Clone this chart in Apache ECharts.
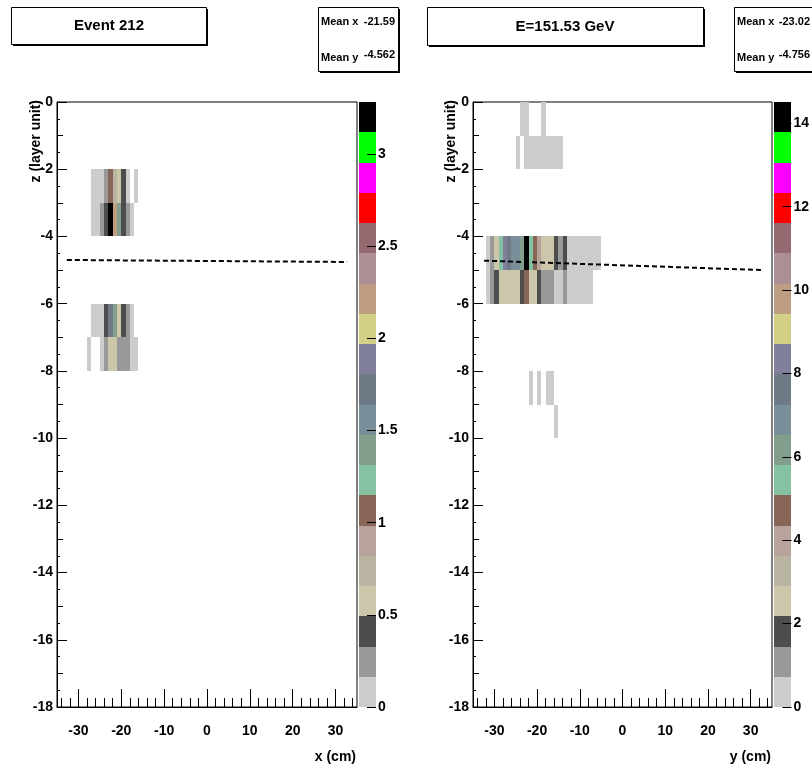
<!DOCTYPE html>
<html><head><meta charset="utf-8">
<script src="https://cdn.jsdelivr.net/npm/echarts@6/dist/echarts.min.js"></script>
<style>html,body{margin:0;padding:0;background:#fff}#c{width:812px;height:773px}</style>
</head><body><div id="c"></div>
<script>
// ---- data ----
const paletteColors = ['#cccccc','#999999','#4d4d4d','#ccc7ab','#bab5a3','#b8a39c','#876657','#85c2a3','#829e8c','#7a8f99','#6e7a85','#80809c','#d4cf87','#bd9e82','#ab8f94','#946970','#ff0000','#ff00ff','#00ff00','#000000'];
const leftMax = 3.283;
const rightMax = 14.51;
const leftLabels = [0,0.5,1,1.5,2,2.5,3];
const rightLabels = [0,2,4,6,8,10,12,14];
const xMajorTicks = [-30,-20,-10,0,10,20,30];
const xMinorTicks = [-34,-32,-28,-26,-24,-22,-18,-16,-14,-12,-8,-6,-4,-2,2,4,6,8,12,14,16,18,22,24,26,28,32,34];
const zMidTicks = [-1,-3,-5,-7,-9,-11,-13,-15,-17];
// cells: [x bin start (cm), layer top z, value]
const leftCells = [
 [-27,-2,0.08],[-26,-2,0.08],[-25,-2,0.08],[-24,-2,0.25],[-23,-2,1.07],[-22,-2,0.74],[-21,-2,0.57],[-20,-2,0.41],[-19,-2,0.08],[-17,-2,0.08],
 [-27,-3,0.08],[-26,-3,0.08],[-25,-3,0.25],[-24,-3,0.41],[-23,-3,3.28],[-22,-3,2.22],[-21,-3,1.40],[-20,-3,0.41],[-19,-3,0.25],[-18,-3,0.08],
 [-27,-6,0.08],[-26,-6,0.08],[-25,-6,0.08],[-24,-6,0.41],[-23,-6,1.72],[-22,-6,1.40],[-21,-6,0.57],[-20,-6,0.41],[-19,-6,0.25],[-18,-6,0.08],
 [-28,-7,0.08],[-25,-7,0.08],[-24,-7,0.25],[-23,-7,0.57],[-22,-7,0.57],[-21,-7,0.25],[-20,-7,0.25],[-19,-7,0.25],[-18,-7,0.08],[-17,-7,0.08]
];
const rightCells = [
 [-24,0,0.36],[-23,0,0.36],[-19,0,0.36],
 [-25,-1,0.36],[-23,-1,0.36],[-22,-1,0.36],[-21,-1,0.36],[-20,-1,0.36],[-19,-1,0.36],[-18,-1,0.36],[-17,-1,0.36],[-16,-1,0.36],[-15,-1,0.36],
 [-32,-4,0.36],[-31,-4,1.09],[-30,-4,2.54],[-29,-4,5.44],[-28,-4,8.34],[-27,-4,7.62],[-26,-4,6.89],[-25,-4,6.89],[-24,-4,6.17],[-23,-4,14.51],[-22,-4,5.44],[-21,-4,4.72],[-20,-4,3.99],[-19,-4,2.54],[-18,-4,2.54],[-17,-4,2.54],[-16,-4,1.81],[-15,-4,1.09],[-14,-4,1.81],
 [-13,-4,0.36],[-12,-4,0.36],[-11,-4,0.36],[-10,-4,0.36],[-9,-4,0.36],[-8,-4,0.36],[-7,-4,0.36],[-6,-4,0.36],
 [-32,-5,0.36],[-31,-5,1.09],[-30,-5,1.81],[-29,-5,2.54],[-28,-5,2.54],[-27,-5,2.54],[-26,-5,2.54],[-25,-5,2.54],[-24,-5,1.81],[-23,-5,4.72],[-22,-5,2.54],[-21,-5,2.54],[-20,-5,1.81],[-19,-5,1.09],[-18,-5,1.09],[-17,-5,1.09],[-16,-5,0.36],[-15,-5,0.36],[-14,-5,1.09],
 [-13,-5,0.36],[-12,-5,0.36],[-11,-5,0.36],[-10,-5,0.36],[-9,-5,0.36],[-8,-5,0.36],
 [-22,-8,0.36],[-20,-8,0.36],[-18,-8,0.36],[-17,-8,0.36],
 [-16,-9,0.36]
];
const leftFitX = [-32.7, 32.7];
const leftFitZ = [-4.70, -4.76];
const rightFitX = [-32.4, 32.7];
const rightFitZ = [-4.72, -5.00];

// ---- helpers ----
const FONT = '"Liberation Sans", Arial, Helvetica, sans-serif';
function colorFor(v, max) {
  let i = Math.floor(v / (max / paletteColors.length));
  if (i < 0) i = 0; if (i >= paletteColors.length) i = paletteColors.length - 1;
  return paletteColors[i];
}
function rectFrom(p0, p1) {
  const x0 = Math.round(Math.min(p0[0], p1[0])), x1 = Math.round(Math.max(p0[0], p1[0]));
  const y0 = Math.round(Math.min(p0[1], p1[1])), y1 = Math.round(Math.max(p0[1], p1[1]));
  return { x: x0, y: y0, width: x1 - x0, height: y1 - y0 };
}
function cellRenderer(max) {
  return function (params, api) {
    const x = api.value(0), z = api.value(1), v = api.value(2);
    const p0 = api.coord([x, z]);
    const p1 = api.coord([x + 1, z - 1]);
    return { type: 'rect', shape: rectFrom(p0, p1), style: { fill: colorFor(v, max) } };
  };
}
function levelData(max) {
  const n = paletteColors.length, out = [];
  for (let i = 0; i < n; i++) out.push([i * max / n, (i + 1) * max / n, i]);
  return out;
}
function barRenderer(params, api) {
  const lo = api.value(0), hi = api.value(1), i = api.value(2);
  const p0 = api.coord([0, hi]);
  const p1 = api.coord([1, lo]);
  return { type: 'rect', shape: rectFrom(p0, p1), style: { fill: paletteColors[i] } };
}
const lab = { color: '#000', fontFamily: FONT, fontWeight: 'bold', fontSize: 14 };
function mainX(gi) {
  return [
    { type: 'value', gridIndex: gi, position: 'bottom', min: -35, max: 35,
      axisLine: { show: true, onZero: false, lineStyle: { color: '#000', width: 1 } },
      axisTick: { show: true, inside: true, length: 18, customValues: xMajorTicks, lineStyle: { color: '#000' } },
      axisLabel: Object.assign({ customValues: xMajorTicks, margin: 17 }, lab),
      splitLine: { show: false } },
    { type: 'value', gridIndex: gi, position: 'bottom', min: -35, max: 35,
      axisLine: { show: false, onZero: false },
      axisTick: { show: true, inside: true, length: 9, customValues: xMinorTicks, lineStyle: { color: '#000' } },
      axisLabel: { show: false }, splitLine: { show: false } }
  ];
}
function mainY(gi) {
  return [
    { type: 'value', gridIndex: gi, position: 'left', min: -18, max: 0, interval: 2,
      axisLine: { show: true, onZero: false, lineStyle: { color: '#000', width: 1 } },
      axisTick: { show: true, inside: true, length: 10, lineStyle: { color: '#000' } },
      minorTick: { show: true, splitNumber: 4, length: 3, lineStyle: { color: '#000' } },
      axisLabel: Object.assign({ margin: 4 }, lab),
      splitLine: { show: false } },
    { type: 'value', gridIndex: gi, position: 'left', min: -18, max: 0,
      axisLine: { show: false, onZero: false },
      axisTick: { show: true, inside: true, length: 6, customValues: zMidTicks, lineStyle: { color: '#000' } },
      axisLabel: { show: false }, splitLine: { show: false } }
  ];
}
function cbX(gi) {
  return { type: 'value', gridIndex: gi, min: 0, max: 1, show: false };
}
function cbY(gi, max, labels) {
  return { type: 'value', gridIndex: gi, min: 0, max: max, position: 'right', z: 10,
    axisLine: { show: false, onZero: false },
    axisTick: { show: true, inside: true, length: 9, customValues: labels, lineStyle: { color: '#000' } },
    axisLabel: Object.assign({ customValues: labels, margin: 2 }, lab),
    splitLine: { show: false } };
}
function box(x, y, w, h) {
  return [
    { type: 'rect', shape: { x: x + 1.5, y: y + 1.5, width: w, height: h }, style: { fill: '#000' }, silent: true },
    { type: 'rect', shape: { x: x, y: y, width: w, height: h }, style: { fill: '#fff', stroke: '#000', lineWidth: 1 }, silent: true }
  ];
}
function txt(x, y, s, opts) {
  return { type: 'text', x: x, y: y, rotation: opts.rot || 0, silent: true,
    style: { text: s, fill: '#000', font: 'bold ' + (opts.size || 14) + 'px ' + FONT,
      align: opts.align || 'left', verticalAlign: 'middle' } };
}

const xAxes = [].concat(mainX(0), [cbX(1)], mainX(2), [cbX(3)]);
const yAxes = [].concat(mainY(0), [cbY(1, leftMax, leftLabels)], mainY(2), [cbY(3, rightMax, rightLabels)]);

const graphics = [].concat(
  box(11.5, 7.5, 195, 37), box(318.5, 7.5, 80, 64),
  box(427.5, 7.5, 276, 38), box(734.5, 7.5, 80, 64),
  [
    txt(109, 26, 'Event 212', { size: 15, align: 'center' }),
    txt(565, 27, 'E=151.53 GeV', { size: 15, align: 'center' }),
    txt(321, 22, 'Mean x', { size: 11 }), txt(395, 22, '-21.59', { size: 11, align: 'right' }),
    txt(321, 58, 'Mean y', { size: 11 }), txt(395, 55, '-4.562', { size: 11, align: 'right' }),
    txt(737, 22, 'Mean x', { size: 11 }), txt(810, 22, '-23.02', { size: 11, align: 'right' }),
    txt(737, 58, 'Mean y', { size: 11 }), txt(810, 55, '-4.756', { size: 11, align: 'right' }),
    txt(356, 757, 'x (cm)', { size: 14, align: 'right' }),
    txt(771, 757, 'y (cm)', { size: 14, align: 'right' }),
    txt(36, 100, 'z (layer unit)', { size: 14, align: 'right', rot: Math.PI / 2 }),
    txt(451, 100, 'z (layer unit)', { size: 14, align: 'right', rot: Math.PI / 2 })
  ]
);

const option = {
  animation: false,
  backgroundColor: '#fff',
  grid: [
    { left: 57, top: 102, width: 300, height: 605, show: true, borderColor: '#000', borderWidth: 1, backgroundColor: 'transparent' },
    { left: 359, top: 102, width: 17, height: 605 },
    { left: 473, top: 102, width: 299, height: 605, show: true, borderColor: '#000', borderWidth: 1, backgroundColor: 'transparent' },
    { left: 774, top: 102, width: 18, height: 605 }
  ],
  xAxis: xAxes,
  yAxis: yAxes,
  series: [
    { type: 'custom', xAxisIndex: 0, yAxisIndex: 0, renderItem: cellRenderer(leftMax), data: leftCells, clip: true, z: 2 },
    { type: 'line', xAxisIndex: 0, yAxisIndex: 0, data: leftFitX.map((x, i) => [x, leftFitZ[i]]), symbol: 'none',
      lineStyle: { color: '#000', width: 2, type: [5, 3] }, z: 5 },
    { type: 'custom', xAxisIndex: 2, yAxisIndex: 2, renderItem: barRenderer, data: levelData(leftMax), z: 0 },
    { type: 'custom', xAxisIndex: 3, yAxisIndex: 3, renderItem: cellRenderer(rightMax), data: rightCells, clip: true, z: 2 },
    { type: 'line', xAxisIndex: 3, yAxisIndex: 3, data: rightFitX.map((x, i) => [x, rightFitZ[i]]), symbol: 'none',
      lineStyle: { color: '#000', width: 2, type: [5, 3] }, z: 5 },
    { type: 'custom', xAxisIndex: 5, yAxisIndex: 5, renderItem: barRenderer, data: levelData(rightMax), z: 0 }
  ],
  graphic: graphics
};
const chart = echarts.init(document.getElementById('c'), null, { renderer: 'canvas' });
chart.setOption(option);
</script>
</body></html>
